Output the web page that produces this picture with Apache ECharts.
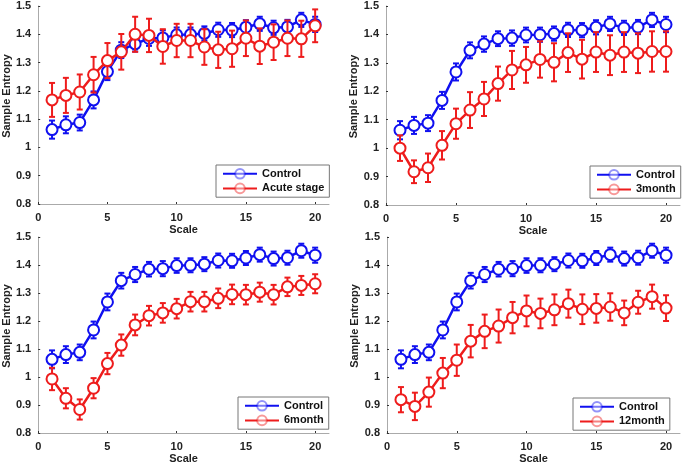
<!DOCTYPE html>
<html>
<head>
<meta charset="utf-8">
<script src="https://cdn.jsdelivr.net/npm/echarts@6/dist/echarts.min.js"></script>
<style>
html,body{margin:0;padding:0;background:#fff;}
#chart{width:685px;height:465px;}
</style>
</head>
<body>
<div id="chart"></div>
<script>
var scales = [1,2,3,4,5,6,7,8,9,10,11,12,13,14,15,16,17,18,19,20];

var controlMean = [1.063,1.080,1.088,1.168,1.268,1.344,1.366,1.385,1.387,1.398,1.399,1.403,1.416,1.415,1.425,1.437,1.423,1.426,1.451,1.435];
var controlErr  = [0.032,0.030,0.028,0.030,0.030,0.028,0.027,0.026,0.027,0.026,0.025,0.025,0.025,0.025,0.025,0.025,0.025,0.025,0.025,0.027];

var acuteMean = [1.168,1.184,1.196,1.257,1.307,1.338,1.400,1.396,1.357,1.378,1.378,1.355,1.345,1.349,1.386,1.358,1.372,1.386,1.384,1.430];
var acuteErr  = [0.060,0.062,0.062,0.063,0.062,0.063,0.062,0.059,0.061,0.059,0.059,0.063,0.064,0.064,0.063,0.063,0.063,0.063,0.064,0.058];

var m3Mean = [1.000,0.917,0.931,1.010,1.086,1.134,1.173,1.227,1.275,1.293,1.312,1.302,1.336,1.313,1.338,1.327,1.338,1.334,1.340,1.340];
var m3Err  = [0.045,0.040,0.050,0.050,0.053,0.063,0.060,0.060,0.067,0.063,0.064,0.067,0.068,0.068,0.070,0.070,0.070,0.070,0.071,0.071];

var m6Mean = [0.993,0.924,0.884,0.960,1.048,1.114,1.186,1.219,1.229,1.244,1.269,1.269,1.281,1.295,1.294,1.303,1.294,1.322,1.327,1.333];
var m6Err  = [0.040,0.036,0.036,0.036,0.038,0.038,0.037,0.035,0.035,0.035,0.035,0.035,0.035,0.035,0.035,0.034,0.035,0.033,0.034,0.034];

var m12Mean = [0.919,0.895,0.946,1.014,1.060,1.128,1.163,1.182,1.212,1.236,1.227,1.240,1.262,1.242,1.245,1.250,1.229,1.267,1.287,1.246];
var m12Err  = [0.045,0.049,0.052,0.054,0.056,0.058,0.060,0.059,0.056,0.055,0.053,0.055,0.050,0.053,0.051,0.049,0.044,0.041,0.043,0.046];

var yTitle = 'Sample Entropy';
var xTitle = 'Scale';

var BLUE = '#1010f0';
var RED = '#ee1c1c';
var FONT = 'Liberation Sans';

var panels = [
    {grid: {left: 36, top: 6, width: 293, height: 198}, label: 'Acute stage', mean: acuteMean, err: acuteErr, legend: {left: 216, top: 165}},
    {grid: {left: 386, top: 6, width: 294, height: 199}, label: '3month', mean: m3Mean, err: m3Err, legend: {left: 590, top: 166}},
    {grid: {left: 36, top: 237, width: 293, height: 200}, label: '6month', mean: m6Mean, err: m6Err, legend: {left: 238, top: 397}},
    {grid: {left: 387, top: 237, width: 293, height: 200}, label: '12month', mean: m12Mean, err: m12Err, legend: {left: 573, top: 398}}
];

function pairs(xs, ys){
    var out = [];
    for(var i=0 ; i<xs.length ; i++){
        out.push([xs[i], ys[i]]);
    }
    return out;
}

function bars(xs, ys, es){
    var out = [];
    for(var i=0 ; i<xs.length ; i++){
        out.push([xs[i], ys[i] - es[i], ys[i] + es[i]]);
    }
    return out;
}

function errorRender(color){
    return function(params, api){
        var x = api.value(0);
        var lo = api.coord([x, api.value(1)]);
        var hi = api.coord([x, api.value(2)]);
        var w = 3;
        var st = {stroke: color, lineWidth: 2};
        return {
            type: 'group',
            children: [
                {type: 'line', shape: {x1: lo[0], y1: lo[1], x2: hi[0], y2: hi[1]}, style: st},
                {type: 'line', shape: {x1: lo[0]-w, y1: lo[1], x2: lo[0]+w, y2: lo[1]}, style: st},
                {type: 'line', shape: {x1: hi[0]-w, y1: hi[1], x2: hi[0]+w, y2: hi[1]}, style: st}
            ]
        };
    };
}

var grids = [], xAxes = [], yAxes = [], legends = [], series = [];
var tickStyle = {fontFamily: FONT, fontWeight: 'bold', fontSize: 11, color: '#222'};

for(var p=0 ; p<panels.length ; p++){
    var pn = panels[p];
    grids.push(pn.grid);
    xAxes.push({
        type: 'value', gridIndex: p, min: 0, max: 21, interval: 5,
        name: xTitle, nameLocation: 'middle', nameGap: 20,
        nameTextStyle: {fontFamily: FONT, fontWeight: 'bold', fontSize: 11, color: '#222'},
        axisLine: {lineStyle: {color: '#aaa', width: 1}},
        axisTick: {inside: true, length: 2, lineStyle: {color: '#333'}, customValues: [0,5,10,15,20]},
        axisLabel: Object.assign({margin: 8, customValues: [0,5,10,15,20]}, tickStyle),
        splitLine: {show: false}
    });
    yAxes.push({
        type: 'value', gridIndex: p, min: 0.8, max: 1.5, interval: 0.1,
        name: yTitle, nameLocation: 'middle', nameGap: 25,
        nameTextStyle: {fontFamily: FONT, fontWeight: 'bold', fontSize: 11, color: '#222', padding: [0, 0, 0, 18]},
        axisLine: {show: true, lineStyle: {color: '#aaa', width: 1}},
        axisTick: {show: true, inside: true, length: 2, lineStyle: {color: '#333'}},
        axisLabel: Object.assign({margin: 7}, tickStyle),
        splitLine: {show: false}
    });
    legends.push({
        left: pn.legend.left, top: pn.legend.top,
        orient: 'vertical', selectedMode: false,
        data: ['Control', pn.label],
        backgroundColor: '#fff', borderColor: '#777', borderWidth: 1, borderRadius: 0,
        padding: [3, 5, 3, 6], itemGap: 3, itemWidth: 34, itemHeight: 12,
        itemStyle: {opacity: 0.45, borderWidth: 1},
        textStyle: {fontFamily: FONT, fontWeight: 'bold', fontSize: 11, color: '#111'}
    });
    series.push({
        name: 'Control', type: 'line', xAxisIndex: p, yAxisIndex: p,
        data: pairs(scales, controlMean), color: BLUE,
        symbol: 'emptyCircle', symbolSize: 11,
        lineStyle: {color: BLUE, width: 2.5},
        itemStyle: {color: BLUE, borderColor: BLUE, borderWidth: 2},
        z: 3, animation: false
    });
    series.push({
        name: pn.label, type: 'line', xAxisIndex: p, yAxisIndex: p,
        data: pairs(scales, pn.mean), color: RED,
        symbol: 'emptyCircle', symbolSize: 11,
        lineStyle: {color: RED, width: 2.5},
        itemStyle: {color: RED, borderColor: RED, borderWidth: 2},
        z: 5, animation: false
    });
    series.push({
        name: 'err-control-' + p, type: 'custom', xAxisIndex: p, yAxisIndex: p,
        renderItem: errorRender(BLUE), encode: {x: 0, y: [1, 2]},
        itemStyle: {color: BLUE},
        data: bars(scales, controlMean, controlErr), silent: true, z: 2
    });
    series.push({
        name: 'err-group-' + p, type: 'custom', xAxisIndex: p, yAxisIndex: p,
        renderItem: errorRender(RED), encode: {x: 0, y: [1, 2]},
        itemStyle: {color: RED},
        data: bars(scales, pn.mean, pn.err), silent: true, z: 4
    });
}

var chart = echarts.init(document.getElementById('chart'));
chart.setOption({
    animation: false,
    backgroundColor: '#fff',
    grid: grids,
    xAxis: xAxes,
    yAxis: yAxes,
    legend: legends,
    series: series
});
</script>
</body>
</html>
